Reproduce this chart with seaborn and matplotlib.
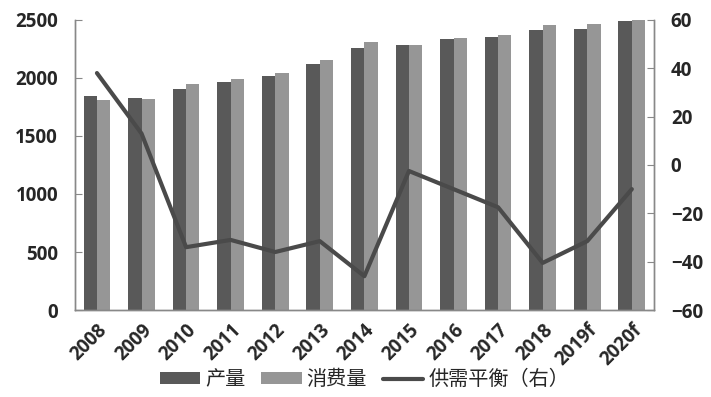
import numpy as np
import pandas as pd
import matplotlib
matplotlib.use("Agg")
import matplotlib.pyplot as plt
import seaborn as sns

#%% 数据
years = ['2008', '2009', '2010', '2011', '2012', '2013', '2014',
         '2015', '2016', '2017', '2018', '2019f', '2020f']
output = [1840, 1830, 1905, 1963, 2014, 2120, 2261,
          2287, 2336, 2353, 2411, 2425, 2494]
consumption = [1810, 1822, 1945, 1994, 2046, 2152, 2310,
               2287, 2345, 2370, 2454, 2463, 2500]
balance = [38, 13, -34, -31, -36, -31.5, -46,
           -2.5, -10, -17.5, -40.5, -31.5, -10]

df = pd.DataFrame({'年份': years * 2,
                   '值': output + consumption,
                   '类别': ['产量'] * len(years) + ['消费量'] * len(years)})

#%% 绘图
sns.set_style('white')
plt.rcParams['font.family'] = ['Noto Sans CJK SC', 'DejaVu Sans']

fig = plt.figure(figsize=(7.11, 3.97), dpi=100)
ax = fig.add_axes([0.105, 0.219, 0.815, 0.731])

sns.barplot(data=df, x='年份', y='值', hue='类别', ax=ax,
            palette=['#595959', '#969696'], width=0.6, gap=0,
            saturation=1, edgecolor='none')

ax2 = ax.twinx()
sns.lineplot(x=np.arange(len(years)), y=balance, ax=ax2,
             color='#4a4a4a', linewidth=3, label='供需平衡（右）', legend=False)

ax.set_ylim(0, 2500)
ax.set_yticks(range(0, 2501, 500))
ax2.set_ylim(-60, 60)
ax2.set_yticks(range(-60, 61, 20))
ax.set_xlim(-0.5, len(years) - 0.5)
ax.set_xlabel('')
ax.set_ylabel('')

tick_font = {'family': 'Open Sans', 'weight': 'bold', 'size': 13.5}
ax.set_xticks(range(len(years)))
ax.set_xticklabels(years, rotation=45, ha='right', rotation_mode='anchor', **tick_font)
for lab in ax.get_yticklabels():
    lab.set_fontproperties(matplotlib.font_manager.FontProperties(**tick_font))
for lab in ax2.get_yticklabels():
    lab.set_fontproperties(matplotlib.font_manager.FontProperties(**tick_font))

for a in (ax, ax2):
    for s in a.spines.values():
        s.set_color('#888888')
        s.set_linewidth(1)
    a.spines['top'].set_visible(False)
ax.tick_params(axis='y', direction='in', length=5, color='#888888', pad=12)
ax.tick_params(axis='x', length=0, pad=7)
ax2.tick_params(axis='y', direction='in', length=5, color='#888888', pad=12)

# 图例
h1, l1 = ax.get_legend_handles_labels()
h2, l2 = ax2.get_legend_handles_labels()
ax.legend(h1 + h2, l1 + l2, loc='lower center', bbox_to_anchor=(0.5, -0.325),
          ncol=3, frameon=False, fontsize=14.5, handlelength=2.0,
          handleheight=0.5, columnspacing=0.8, handletextpad=0.25,
          borderpad=0.2)

fig.savefig('out.png', dpi=100)
